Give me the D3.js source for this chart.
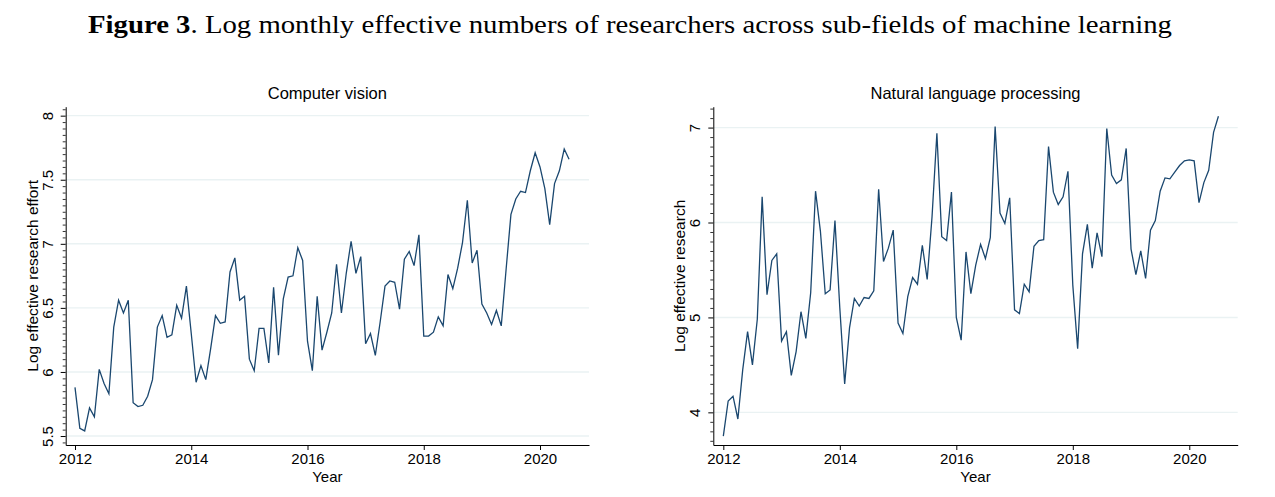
<!DOCTYPE html>
<html>
<head>
<meta charset="utf-8">
<script src="https://cdn.jsdelivr.net/npm/d3@7.9.0/dist/d3.min.js"></script>
<style>
  body { margin: 0; background: #fff; }
  text { font-family: "Liberation Sans", Arial, sans-serif; fill: #000; }
  .title text { font-family: "Liberation Serif", "DejaVu Serif", serif; }
</style>
</head>
<body>
<svg id="fig" width="1275" height="497"></svg>
<script>
/* ---------- Data (monthly, Jan 2012 .. Jul 2020) ---------- */
const startYear = 2012;
const yearTicks = [2012, 2014, 2016, 2018, 2020];

const cvTicks  = [5.5, 6, 6.5, 7, 7.5, 8];
const nlpTicks = [4, 5, 6, 7];

const cvValues = [
  5.88, 5.56, 5.54, 5.72, 5.65, 6.02, 5.91, 5.83, 6.35, 6.56, 6.46, 6.56,
  5.76, 5.73, 5.74, 5.81, 5.94, 6.35, 6.44, 6.27, 6.29, 6.52, 6.42, 6.67,
  6.30, 5.92, 6.05, 5.94, 6.18, 6.44, 6.38, 6.39, 6.78, 6.89, 6.56, 6.59,
  6.10, 6.01, 6.34, 6.34, 6.07, 6.66, 6.13, 6.57, 6.74, 6.75, 6.97, 6.87,
  6.24, 6.01, 6.59, 6.17, 6.31, 6.46, 6.84, 6.46, 6.77, 7.02, 6.77, 6.90,
  6.22, 6.30, 6.13, 6.39, 6.67, 6.71, 6.70, 6.49, 6.88, 6.94, 6.83, 7.07,
  6.28, 6.28, 6.31, 6.43, 6.36, 6.76, 6.65, 6.81, 7.01, 7.34, 6.85, 6.95,
  6.53, 6.46, 6.37, 6.48, 6.36, 6.80, 7.23, 7.35, 7.41, 7.40, 7.57, 7.71,
  7.60, 7.43, 7.15, 7.47, 7.57, 7.74, 7.66
];

const nlpValues = [
  3.75, 4.12, 4.17, 3.93, 4.45, 4.85, 4.50, 4.98, 6.27, 5.24, 5.60, 5.67,
  4.75, 4.85, 4.39, 4.64, 5.06, 4.78, 5.26, 6.33, 5.91, 5.25, 5.29, 6.02,
  5.10, 4.30, 4.89, 5.20, 5.12, 5.21, 5.20, 5.28, 6.35, 5.59, 5.73, 5.92,
  4.94, 4.83, 5.22, 5.42, 5.35, 5.76, 5.40, 6.06, 6.94, 5.85, 5.81, 6.32,
  5.00, 4.76, 5.69, 5.25, 5.55, 5.77, 5.62, 5.84, 7.01, 6.10, 5.99, 6.26,
  5.08, 5.04, 5.35, 5.27, 5.75, 5.81, 5.82, 6.80, 6.32, 6.19, 6.27, 6.54,
  5.34, 4.67, 5.67, 5.98, 5.52, 5.89, 5.64, 6.99, 6.50, 6.41, 6.45, 6.78,
  5.72, 5.45, 5.70, 5.41, 5.92, 6.02, 6.33, 6.47, 6.46, 6.53, 6.60, 6.65,
  6.66, 6.65, 6.21, 6.42, 6.55, 6.95, 7.12
];

/* ---------- Panels ---------- */
const panels = [
  {
    title: "Computer vision", ylabel: "Log effective research effort",
    values: cvValues, ticks: cvTicks, minorStep: 0.05,
    left: 65.7, right: 589, xDomain: [2011.84, 2020.843], yDomain: [5.43, 8.07]
  },
  {
    title: "Natural language processing", ylabel: "Log effective research",
    values: nlpValues, ticks: nlpTicks, minorStep: 0.1,
    left: 713.3, right: 1237.7, xDomain: [2011.828, 2020.831], yDomain: [3.656, 7.22]
  }
];

const plotTop = 106.7, plotBottom = 445;
const lineColor = "#1a476f";
const gridColor = "#eaf2f3";

const svg = d3.select("#fig");

// figure title
const title = svg.append("g").attr("class", "title")
  .append("text")
  .attr("x", 88).attr("y", 33)
  .attr("font-size", 25)
  .attr("textLength", 1084).attr("lengthAdjust", "spacingAndGlyphs");
title.append("tspan").attr("font-weight", "bold").text("Figure 3");
title.append("tspan").text(". Log monthly effective numbers of researchers across sub-fields of machine learning");

panels.forEach(p => {
  const x = d3.scaleLinear().domain(p.xDomain).range([p.left, p.right]);
  const y = d3.scaleLinear().domain(p.yDomain).range([plotBottom, plotTop]);
  const g = svg.append("g");

  // gridlines
  g.selectAll("line.grid").data(p.ticks).enter().append("line")
    .attr("x1", p.left).attr("x2", p.right)
    .attr("y1", d => y(d)).attr("y2", d => y(d))
    .attr("stroke", gridColor).attr("stroke-width", 1.4);

  // minor y ticks
  const lo = Math.ceil(p.yDomain[0] / p.minorStep - 1e-6);
  const hi = Math.floor(p.yDomain[1] / p.minorStep + 1e-6);
  const minor = d3.range(lo, hi + 1).map(k => +(k * p.minorStep).toFixed(3))
    .filter(v => !p.ticks.some(t => Math.abs(t - v) < 1e-6));
  g.append("g")
    .attr("transform", `translate(${p.left},0)`)
    .call(d3.axisLeft(y).tickValues(minor).tickSize(3).tickFormat(""))
    .call(a => a.select(".domain").remove())
    .selectAll("line").attr("stroke", "#000").attr("stroke-width", 0.8);

  // major y axis
  const ya = g.append("g")
    .attr("transform", `translate(${p.left},0)`)
    .call(d3.axisLeft(y).tickValues(p.ticks).tickSize(5).tickSizeOuter(0).tickFormat(d3.format("")));
  ya.select(".domain").attr("stroke", "#000").attr("stroke-width", 1);
  ya.selectAll(".tick line").attr("stroke", "#000");
  ya.selectAll(".tick text")
    .attr("font-size", 15).attr("fill", "#000")
    .attr("x", 0).attr("dy", 0)
    .attr("text-anchor", "middle")
    .attr("transform", "translate(-13,0) rotate(-90)");

  // x axis
  const xa = g.append("g")
    .attr("transform", `translate(0,${plotBottom})`)
    .call(d3.axisBottom(x).tickValues(yearTicks).tickSize(5).tickSizeOuter(0).tickFormat(d3.format("d")));
  xa.select(".domain").attr("stroke", "#000").attr("stroke-width", 1);
  xa.selectAll(".tick line").attr("stroke", "#000");
  xa.selectAll(".tick text").attr("font-size", 15).attr("fill", "#000").attr("y", 8);

  // series line
  const line = d3.line()
    .x((d, i) => x(startYear + i / 12))
    .y(d => y(d));
  g.append("path").datum(p.values)
    .attr("d", line)
    .attr("fill", "none")
    .attr("stroke", lineColor)
    .attr("stroke-width", 1.3)
    .attr("stroke-linejoin", "miter");

  const cx = (p.left + p.right) / 2;
  // panel title
  g.append("text").attr("x", cx).attr("y", 99)
    .attr("text-anchor", "middle").attr("font-size", 16.5)
    .attr("fill", "#000").text(p.title);
  // x label
  g.append("text").attr("x", cx).attr("y", 482)
    .attr("text-anchor", "middle").attr("font-size", 15).text("Year");
  // y label
  g.append("text")
    .attr("transform", `translate(${p.left - 28},${(plotTop + plotBottom) / 2}) rotate(-90)`)
    .attr("text-anchor", "middle").attr("font-size", 15.5).text(p.ylabel);
});
</script>
</body>
</html>
